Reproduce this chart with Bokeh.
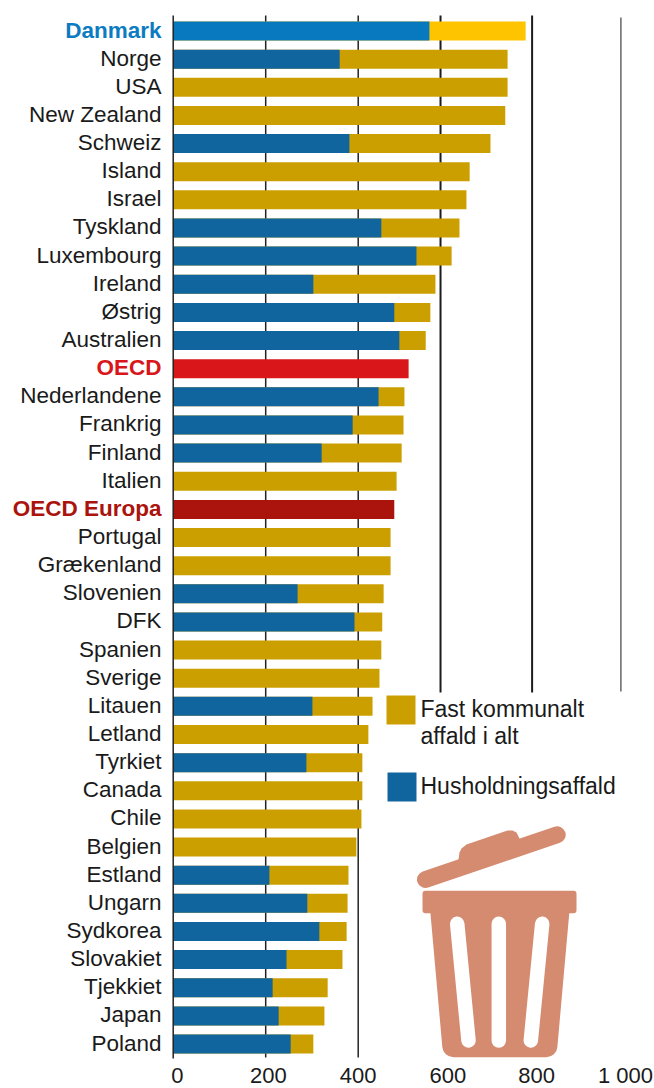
from bokeh.plotting import figure
from bokeh.models import ColumnDataSource, Range1d, LinearAxis, FixedTicker
from bokeh.core.properties import value
from bokeh.embed import file_html
from bokeh.resources import INLINE

countries = ["Danmark","Norge","USA","New Zealand","Schweiz","Island","Israel","Tyskland","Luxembourg","Ireland",
             "Østrig","Australien","OECD","Nederlandene","Frankrig","Finland","Italien","OECD Europa","Portugal",
             "Grækenland","Slovenien","DFK","Spanien","Sverige","Litauen","Letland","Tyrkiet","Canada","Chile",
             "Belgien","Estland","Ungarn","Sydkorea","Slovakiet","Tjekkiet","Japan","Poland"]
total = [762,723,723,718,686,641,634,619,602,567,556,546,509,500,498,494,483,478,470,470,455,452,450,446,431,422,
         409,409,407,396,379,377,375,366,334,327,303]
N = float("nan")
household = [554,360,N,N,381,N,N,450,526,303,478,489,N,444,388,321,N,N,N,N,269,392,N,N,301,N,288,N,N,N,208,290,316,
             245,215,228,254]
grid_values = [0,200,400,578,776,968]
grid_bottom = [1058,1057,1057,692,692,691]
grid_top = [15,15,15,15,15,17]
grid_colors = ["#222222","#222222","#222222","#1c1c1c","#1c1c1c","#666666"]
grid_widths = [1.5,1.5,1.5,2,2,1.5]
tick_labels = ["0","200","400","600","800","1 000"]
tick_label_at = [9,206,400,594,786,978]

GOLD, BLUE = "#CC9F00", "#11659E"
special_total = {"Danmark":"#FFC400","OECD":"#D9161A","OECD Europa":"#AB130D"}
special_label = {"Danmark":"#0B7CC1","OECD":"#D9161A","OECD Europa":"#AB130D"}
special_house = {"Danmark":"#0979BF"}

# page pixel calibration
PX0, PXU = 172.7, 0.4625
ROW0, ROWH = 30.5, 28.14
F_L, F_R, F_T, F_B = 0, 654, 0, 1059
FONT = "Liberation Sans"

rows = list(range(len(countries)))
src = ColumnDataSource(dict(
    y=rows, name=countries, total=total, house=household,
    tc=[special_total.get(c, GOLD) for c in countries],
    hc=[special_house.get(c, BLUE) for c in countries],
    lc=[special_label.get(c, "#1a1a1a") for c in countries],
    fs=["bold" if c in special_label else "normal" for c in countries],
))

p = figure(frame_width=F_R-F_L, frame_height=F_B-F_T, output_backend="svg", toolbar_location=None,
           x_range=Range1d((F_L-PX0)/PXU, (F_R-PX0)/PXU),
           y_range=Range1d((F_B-ROW0)/ROWH, (F_T-ROW0)/ROWH),
           x_axis_location=None, y_axis_location=None,
           min_border_left=0, min_border_right=0, min_border_top=0, min_border_bottom=29,
           background_fill_color="white", border_fill_color="white", outline_line_color=None)
p.grid.visible = False
p.extra_x_ranges["px"] = Range1d(F_L, F_R)
p.extra_y_ranges["px"] = Range1d(F_B, F_T)
PX = dict(x_range_name="px", y_range_name="px")

ax = LinearAxis(ticker=FixedTicker(ticks=tick_label_at),
                major_label_overrides={k: v for k, v in zip(tick_label_at, tick_labels)},
                major_tick_line_color=None, minor_tick_line_color=None, axis_line_color=None,
                major_label_text_font=FONT, major_label_text_font_size="22px",
                major_label_text_color="#1a1a1a", major_label_standoff=-3)
p.add_layout(ax, "below")

# gridlines (behind the bars)
for g, t, b, c, w in zip(grid_values, grid_top, grid_bottom, grid_colors, grid_widths):
    if g != 0:
        px = PX0 + PXU*g
        p.line([px, px], [t, b], line_color=c, line_width=w, **PX)

p.hbar(y="y", left=0, right="total", height=19/ROWH, fill_color="tc", line_color=None, source=src)
p.hbar(y="y", left=0, right="house", height=19/ROWH, fill_color="hc", line_color=None, source=src)
p.line([PX0, PX0], [grid_top[0], grid_bottom[0]], line_color=grid_colors[0], line_width=grid_widths[0], **PX)

p.text(x=0, y="y", text="name", x_offset=-11.7, y_offset=-1, text_align="right", text_baseline="middle",
       text_font=value(FONT), text_font_size="22.5px", text_font_style="fs", text_color="lc", source=src)

# legend
p.quad(left=386, right=415, top=695, bottom=724, fill_color=GOLD, line_color=None, **PX)
p.quad(left=387, right=416, top=772, bottom=801, fill_color=BLUE, line_color=None, **PX)
for txt, yy in [("Fast kommunalt", 708), ("affald i alt", 735), ("Husholdningsaffald", 785)]:
    p.text(x=[420], y=[yy], text=[txt], text_baseline="middle", text_font=value(FONT), text_font_size="23px",
           text_color="#1a1a1a", **PX)

# waste bin icon
BIN = "#D58B70"
p.line([425, 556.7], [879, 834.3], line_color=BIN, line_width=17, line_cap="round", **PX)
p.patch([458, 459, 461, 466, 507, 512, 516, 519, 519, 458], [859, 852, 848, 844, 830, 830, 832, 838, 848, 868],
        fill_color=BIN, line_color=None, **PX)
p.patch([425, 573, 573, 425], [893.3, 893.3, 909.7, 909.7], fill_color=BIN, line_color=BIN, line_width=6,
        line_join="round", **PX)
p.patch([440.3, 558.4, 545.9, 452.8], [905, 905, 1045.7, 1045.7], fill_color=BIN, line_color=BIN, line_width=22,
        line_join="round", **PX)
for xs in ([456.7, 468], [498.3, 498.3], [541.7, 530.3]):
    p.line(xs, [923.3, 1040], line_color="white", line_width=14.5, line_cap="round", **PX)

open("out.html", "w").write(file_html(p, INLINE))
